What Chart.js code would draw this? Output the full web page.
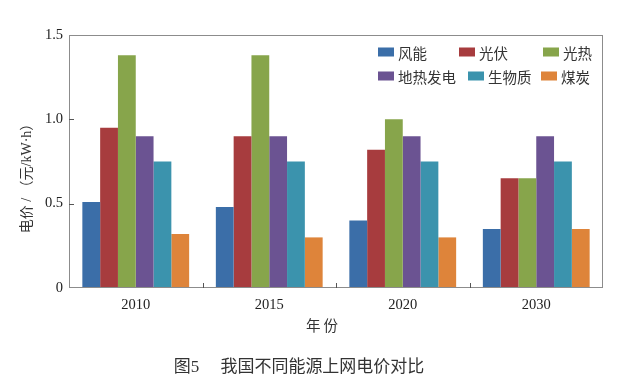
<!DOCTYPE html>
<html>
<head>
<meta charset="utf-8">
<script src="https://cdn.jsdelivr.net/npm/chart.js@4"></script>
<style>
  body { margin: 0; background: #fff; }
  canvas { display: block; }
</style>
</head>
<body>
<canvas id="priceChart" width="625" height="390"></canvas>
<script>
const years = ['2010', '2015', '2020', '2030'];
const seriesNames = ['风能', '光伏', '光热', '地热发电', '生物质', '煤炭'];
const wind = [0.51, 0.48, 0.40, 0.35];
const pv = [0.95, 0.90, 0.82, 0.65];
const csp = [1.38, 1.38, 1.00, 0.65];
const geo = [0.90, 0.90, 0.90, 0.90];
const bio = [0.75, 0.75, 0.75, 0.75];
const coal = [0.32, 0.30, 0.30, 0.35];
const yTickLabels = ['0', '0.5', '1.0', '1.5'];
const colors = ['#3b6ea8', '#a73c3e', '#87a54b', '#6b5392', '#3b93ad', '#de843a'];

const serif = '"Liberation Serif", "Noto Sans CJK SC", serif';
const cjk = '"Noto Sans CJK SC", sans-serif';

// frame, inward ticks, legend and texts
const decor = {
  id: 'decor',
  afterDraw(chart) {
    const ctx = chart.ctx;
    const a = chart.chartArea;
    const xs = chart.scales.x, ys = chart.scales.y;
    ctx.save();
    ctx.strokeStyle = '#8c8c8c';
    ctx.lineWidth = 1;
    ctx.strokeRect(a.left + 0.5, a.top + 0.5, a.right - a.left - 1, a.bottom - a.top - 1);

    ctx.strokeStyle = '#555';
    ctx.beginPath();
    ys.ticks.forEach(t => {
      if (t.value <= 0 || t.value >= 1.5) return;
      const y = Math.round(ys.getPixelForValue(t.value)) + 0.5;
      ctx.moveTo(a.left, y);
      ctx.lineTo(a.left + 5, y);
    });
    for (let i = 1; i < years.length; i++) {
      const x = Math.round((xs.getPixelForValue(i - 1) + xs.getPixelForValue(i)) / 2) + 0.5;
      ctx.moveTo(x, a.bottom);
      ctx.lineTo(x, a.bottom - 5);
    }
    ctx.stroke();

    // legend
    const rows = [[0, 1, 2], [3, 4, 5]];
    const cols = [[378, 459, 543], [378, 468, 541]];
    const rowY = [52, 76];
    ctx.font = '14.5px ' + cjk;
    ctx.textBaseline = 'middle';
    ctx.textAlign = 'left';
    rows.forEach((row, r) => {
      row.forEach((di, c) => {
        const ds = chart.data.datasets[di];
        ctx.fillStyle = ds.backgroundColor;
        ctx.fillRect(cols[r][c], rowY[r] - 4.5, 16, 9);
        ctx.fillStyle = '#333';
        ctx.fillText(ds.label, cols[r][c] + 20, rowY[r] + 1);
      });
    });

    // y axis title
    ctx.save();
    ctx.translate(27, 175);
    ctx.rotate(-Math.PI / 2);
    ctx.textAlign = 'center';
    ctx.font = '14px ' + serif;
    ctx.fillStyle = '#333';
    ctx.fillText('电价 / （元/kW·h）', 0, 0);
    ctx.restore();

    // x axis title
    ctx.textAlign = 'center';
    ctx.font = '14.5px ' + cjk;
    ctx.fillStyle = '#333';
    ctx.fillText('年 份', 322, 325);

    // caption
    ctx.font = '17px ' + serif;
    ctx.fillText('图5\u3000 我国不同能源上网电价对比', 299, 368);
    ctx.restore();
  }
};

const series = [wind, pv, csp, geo, bio, coal];

new Chart(document.getElementById('priceChart'), {
  type: 'bar',
  data: {
    labels: years,
    datasets: series.map((d, i) => ({
      label: seriesNames[i],
      data: d,
      backgroundColor: colors[i],
      borderWidth: 0,
      categoryPercentage: 0.8,
      barPercentage: 1.0
    }))
  },
  options: {
    responsive: false,
    animation: false,
    devicePixelRatio: 1,
    layout: { padding: { top: 35, right: 22, bottom: 0, left: 0 } },
    plugins: {
      legend: { display: false },
      tooltip: { enabled: false }
    },
    scales: {
      x: {
        grid: { display: false, drawTicks: false },
        border: { display: false },
        ticks: { font: { family: serif, size: 14.5 }, color: '#222', padding: 8 },
        afterFit: s => { s.height = 102; }
      },
      y: {
        min: 0,
        max: 1.5,
        grid: { display: false, drawTicks: false },
        border: { display: false },
        ticks: {
          stepSize: 0.5,
          font: { family: serif, size: 14.5 },
          color: '#222',
          padding: 6,
          callback: (v, i) => yTickLabels[i]
        },
        afterFit: s => { s.width = 69; }
      }
    }
  },
  plugins: [decor]
});
</script>
</body>
</html>
